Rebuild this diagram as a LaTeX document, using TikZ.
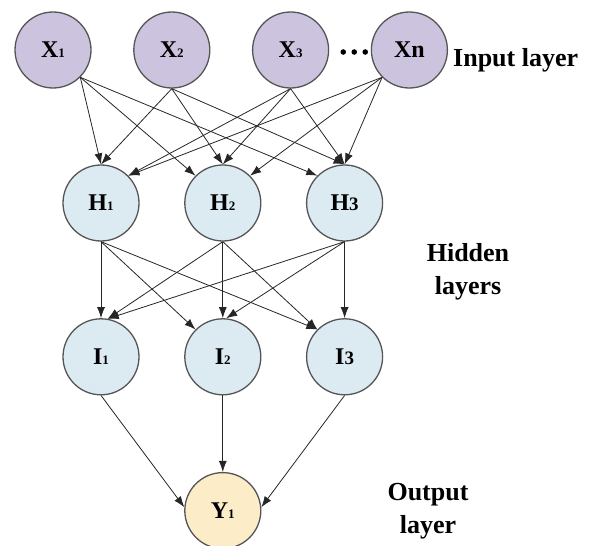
\documentclass[tikz,border=0pt]{standalone}
\usepackage{fontspec}
\setmainfont{Liberation Serif}
\usetikzlibrary{positioning, calc}
\usetikzlibrary{arrows.meta}
\definecolor{inputfill}{RGB}{204,196,223}
\definecolor{hiddenfill}{RGB}{220,235,242}
\definecolor{outputfill}{RGB}{253,236,200}
\definecolor{ringgray}{RGB}{85,85,85}
\tikzstyle{neuron}=[circle,line width=1.3pt,draw=ringgray,minimum size=76pt,
inner sep=0pt,font=\fontsize{24}{24}\selectfont\bfseries]
\tikzstyle{inbox}=[neuron,fill=inputfill]
\tikzstyle{hidbox}=[neuron,fill=hiddenfill]
\tikzstyle{outbox}=[neuron,fill=outputfill]
\tikzstyle{layerlabel}=[align=center,inner sep=0pt,
font=\fontsize{26}{33}\selectfont\bfseries]
\tikzstyle{edgepath} = [-{Latex[length=11pt,width=8pt]},color=black!85,
line width=0.8pt]
\newcommand{\sm}[1]{{\fontsize{13}{13}\selectfont #1}}
\newcommand{\md}[1]{{\fontsize{19}{19}\selectfont #1}}

\begin{document}
\begin{tikzpicture}[x=1pt,y=1pt]
    \useasboundingbox (0,0) rectangle (593,-545);
    % input layer
    \node[inbox] (x1) at (53,-50) {X\sm{1}};
    \node[inbox, right=41.5pt of x1] (x2) {X\sm{2}};
    \node[inbox, right=41.5pt of x2] (x3) {X\sm{3}};
    \node[inbox, right=41.5pt of x3] (xn) {Xn};
    \foreach \k in {14,25,36}
        \fill[black] ($(x3.east)+(\k,-2)$) circle (2.8);
    \node[layerlabel, anchor=base west] (inlbl) at (453,-67) {Input layer};
    
    % hidden layers
    \node[hidbox] (h1) at (101,-203) {H\sm{1}};
    \node[hidbox, right=44.5pt of h1] (h2) {H\sm{2}};
    \node[hidbox, right=44.5pt of h2] (h3) {H\md{3}};
    \node[hidbox, below=76.5pt of h1] (i1) {I\sm{1}};
    \node[hidbox, right=44.5pt of i1] (i2) {I\sm{2}};
    \node[hidbox, right=44.5pt of i2] (i3) {I\md{3}};
    \node[layerlabel] (hidlbl) at (468,-272) {Hidden\\layers};
    
    % output layer
    \node[outbox, below=76.5pt of i2] (y1) {Y\sm{1}};
    \node[layerlabel] (outlbl) at (428,-511) {Output\\layer};
    
    \path[edgepath]
        (x1.south east) edge (h1.north)
        (x1.south east) edge (h2.north west)
        (x1.south east) edge (h3.north west)
        (x2.south) edge (h1.north)
        (x2.south) edge (h2.north)
        (x2.south) edge (h3.north)
        (x3.south) edge (h1.north east)
        (x3.south) edge (h2.north)
        (x3.south) edge (h3.north)
        (xn.south west) edge (h1.north east)
        (xn.south west) edge (h2.north east)
        (xn.south west) edge (h3.north);
    \path[edgepath]
        (h1.south) edge (i1.north)
        (h1.south) edge (i2.north west)
        (h1.south) edge (i3.north west)
        (h2.south) edge (i1.80)
        (h2.south) edge (i2.north)
        (h2.south) edge (i3.north west)
        (h3.south) edge (i1.80)
        (h3.south) edge (i2.85)
        (h3.south) edge (i3.north);
    \path[edgepath]
        (i1.south) edge (y1.175)
        (i2.south) edge (y1.north)
        (i3.south) edge (y1.5);
\end{tikzpicture}
\end{document}
